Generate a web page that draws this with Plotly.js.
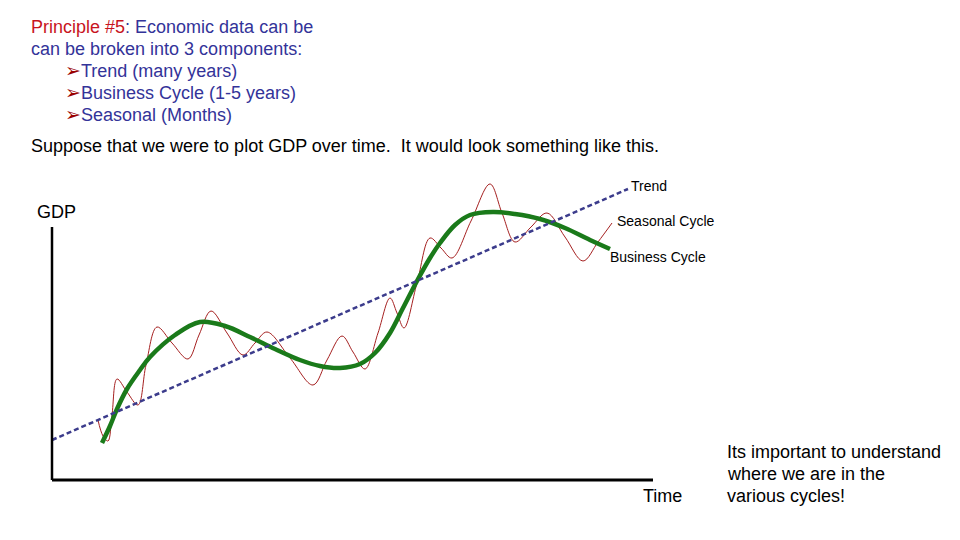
<!DOCTYPE html>
<html>
<head>
<meta charset="utf-8">
<script src="https://cdn.plot.ly/plotly-3.0.1.min.js"></script>
<style>html,body{margin:0;padding:0;background:#fff;}#chart{width:960px;height:540px;}</style>
</head>
<body>
<div id="chart"></div>
<script>
// Time (x) and GDP (y) values (arbitrary units)
const trendTime = [0, 576];
const trendGDP  = [40, 291];

const cycleTime = [50, 58, 65, 75, 88, 98, 123, 148, 173, 198, 223, 248, 268, 288, 308, 323, 338, 351, 365, 378, 388, 403, 418, 441, 463, 488, 513, 538, 558];
const cycleGDP  = [37, 54, 71, 91, 110, 123, 145, 158, 154, 143, 131, 120, 114, 112, 116, 127, 147, 172, 199, 222, 237, 255, 265, 268, 266, 261, 252, 240, 231];

const seasonTime = [46, 51, 56, 60, 65, 75, 86, 94, 105, 120, 136, 147, 159, 175, 191, 203, 215, 238, 261, 275, 290, 301, 313, 326, 338, 345, 352, 365, 378, 389, 400, 419, 438, 450, 463, 479, 495, 513, 531, 546, 560];
const seasonGDP  = [60, 44, 39, 65, 101, 88, 75, 115, 153, 137, 121, 145, 169, 147, 125, 137, 148, 122, 95, 120, 144, 128, 111, 147, 182, 167, 152, 197, 242, 232, 222, 259, 296, 267, 238, 253, 267, 243, 219, 238, 257];

const axisTime = [0, 601];
const axisGDP  = [0, 253];

const traces = [
  {x: seasonTime, y: seasonGDP, type: 'scatter', mode: 'lines',
   line: {color: '#a52020', width: 1, shape: 'spline', smoothing: 1}, hoverinfo: 'skip'},
  {x: cycleTime, y: cycleGDP, type: 'scatter', mode: 'lines',
   line: {color: '#1a7a1a', width: 4.5, shape: 'spline', smoothing: 1}, hoverinfo: 'skip'},
  {x: trendTime, y: trendGDP, type: 'scatter', mode: 'lines',
   line: {color: '#3c3c8c', width: 2.5, dash: '5px,3px'}, hoverinfo: 'skip'}
];

function px(x){return x/960;}
function py(y){return 1 - y/540;}
const blue = '#333399';
const txt = (text, x, y, size, color, extra) => Object.assign({
  text: text, xref: 'paper', yref: 'paper', x: px(x), y: py(y),
  xanchor: 'left', yanchor: 'middle', showarrow: false,
  font: {family: 'Liberation Sans, Arial, sans-serif', size: size, color: color}
}, extra || {});

const arrow = '<span style="color:#990000;font-family:DejaVu Sans;font-size:19px">➢</span>';

const layout = {
  width: 960, height: 540,
  margin: {l: 0, r: 0, t: 0, b: 0},
  paper_bgcolor: '#ffffff', plot_bgcolor: '#ffffff',
  showlegend: false,
  xaxis: {range: [-52, 908], visible: false, fixedrange: true},
  yaxis: {range: [-60, 480], visible: false, fixedrange: true},
  shapes: [
    {type: 'line', xref: 'x', yref: 'y', x0: axisTime[0], x1: axisTime[0], y0: axisGDP[0], y1: axisGDP[1],
     line: {color: '#000', width: 2.5}},
    {type: 'line', xref: 'x', yref: 'y', x0: axisTime[0], x1: axisTime[1], y0: axisGDP[0], y1: axisGDP[0],
     line: {color: '#000', width: 3}}
  ],
  annotations: [
    txt('<span style="color:#c8141e">Principle #5</span>: Economic data can be', 29, 27, 18, blue),
    txt('can be broken into 3 components:', 29, 49, 18, blue),
    txt(arrow + 'Trend (many years)', 63, 70, 18, blue),
    txt(arrow + 'Business Cycle (1-5 years)', 63, 92, 18, blue),
    txt(arrow + 'Seasonal (Months)', 63, 114, 18, blue),
    txt('Suppose that we were to plot GDP over time.  It would look something like this.', 29, 146, 18, '#000'),
    txt('GDP', 35, 212, 18, '#000'),
    txt('Trend', 629, 186, 14, '#000'),
    txt('Seasonal Cycle', 615, 221, 14, '#000'),
    txt('Business Cycle', 608, 257, 14, '#000'),
    txt('Time', 641, 496, 18, '#000'),
    txt('Its important to understand', 725, 452, 18, '#000'),
    txt('where we are in the', 725, 474, 18, '#000'),
    txt('various cycles!', 725, 496, 18, '#000')
  ]
};

Plotly.newPlot('chart', traces, layout, {staticPlot: true, displayModeBar: false});
</script>
</body>
</html>
